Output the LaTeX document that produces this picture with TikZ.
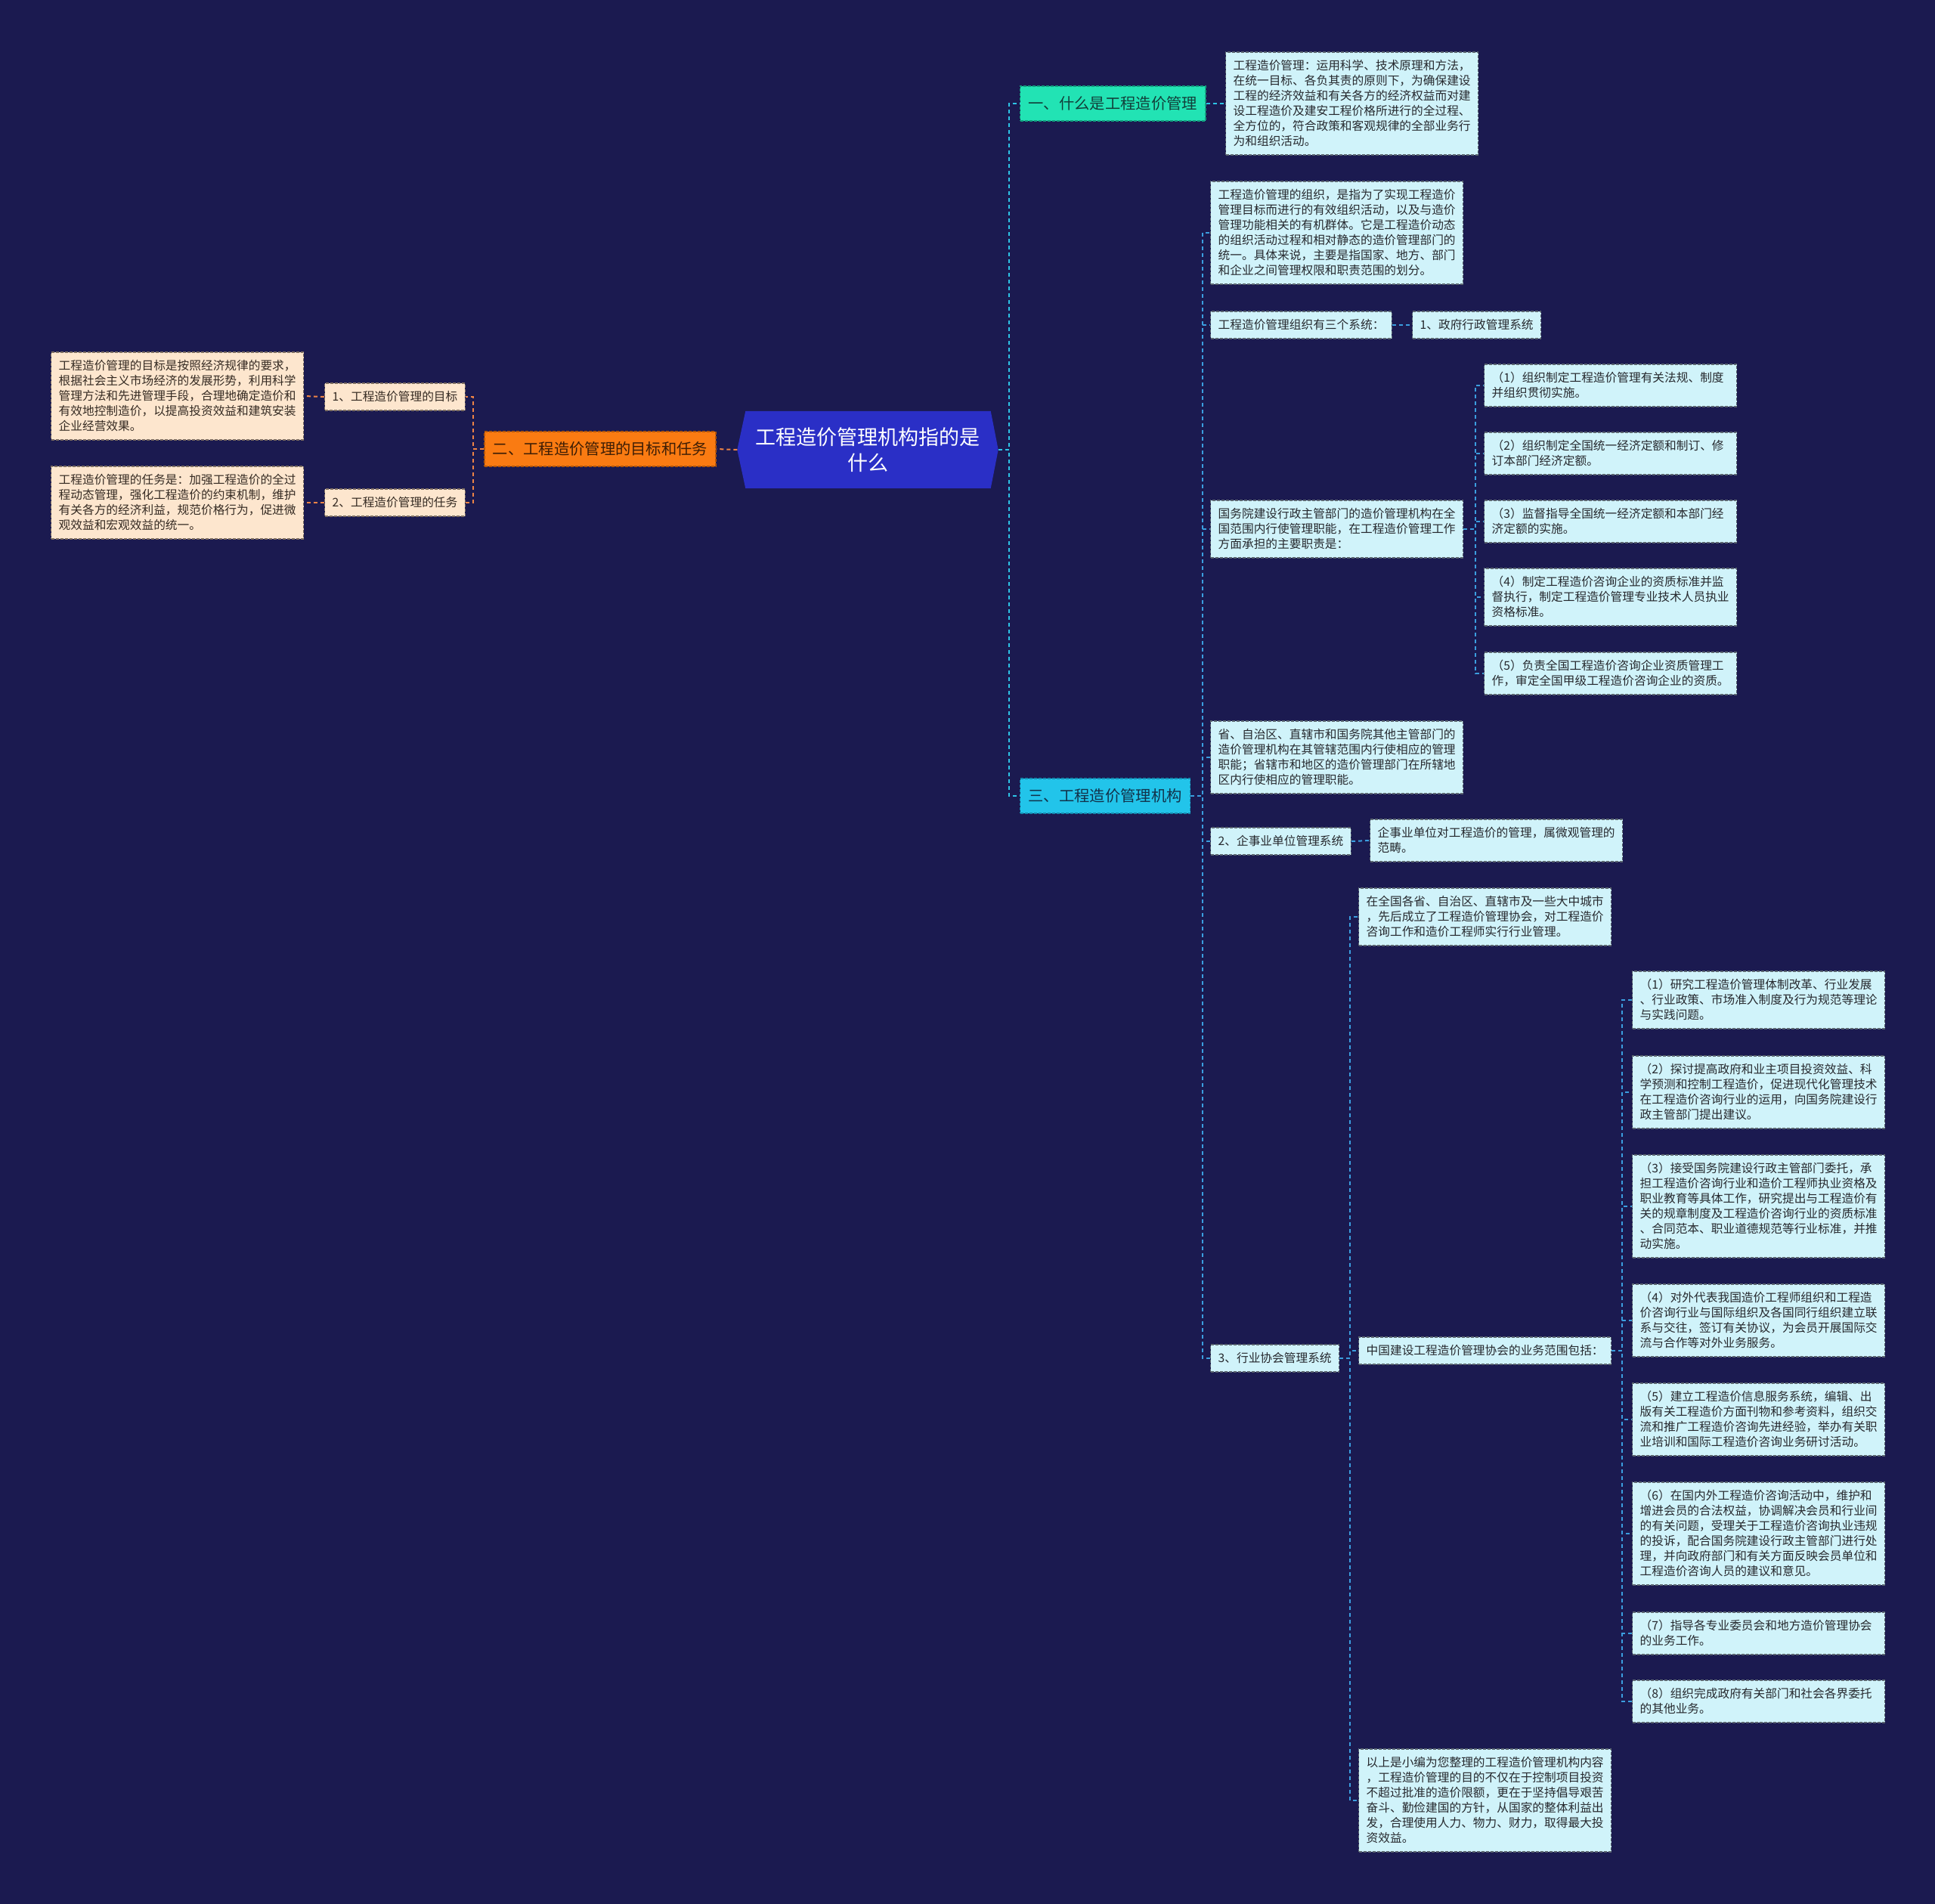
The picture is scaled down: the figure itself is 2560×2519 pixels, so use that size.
\documentclass[tikz,border=0pt]{standalone}
\usepackage{fontspec}
\setmainfont{Noto Sans CJK SC}
\usetikzlibrary{backgrounds}
\definecolor{bgc}{HTML}{1B1A50}
\definecolor{hubfill}{HTML}{2A2FC6}
\definecolor{mintfill}{HTML}{22E3B4}
\definecolor{mintdraw}{HTML}{129C7C}
\definecolor{cyanfill}{HTML}{22C4EA}
\definecolor{cyandraw}{HTML}{1489AE}
\definecolor{orgfill}{HTML}{FA7B12}
\definecolor{orgdraw}{HTML}{B35508}
\definecolor{leafcyan}{HTML}{D0F3FA}
\definecolor{leafpeach}{HTML}{FDE6CE}
\definecolor{leafdraw}{HTML}{5B6670}
\definecolor{peachdraw}{HTML}{7D6E62}
\definecolor{leaftext}{HTML}{26292E}
\definecolor{peachtext}{HTML}{352B23}
\definecolor{mainline}{HTML}{2DC4E6}
\definecolor{subline}{HTML}{3B9EDF}
\definecolor{orgline}{HTML}{EE8446}
\definecolor{minttext}{HTML}{123F3A}
\definecolor{cyantext}{HTML}{12324A}
\definecolor{orgtext}{HTML}{3E1E05}
\newcommand\linestrut{\rule[-4.1pt]{0pt}{20pt}}
\tikzset{
 box/.style={rectangle, line width=1.3pt, dash pattern=on 4pt off 2pt, font=\fontsize{15.7}{20}\selectfont, inner xsep=10pt, inner ysep=8pt, align=left, anchor=west, execute at begin node=\linestrut, execute at end node=\linestrut},
 cbox/.style={box, fill=leafcyan, draw=leafdraw, text=leaftext},
 cwide/.style={cbox, text width=314pt},
 pbox/.style={box, fill=leafpeach, draw=peachdraw, text=peachtext},
 pwide/.style={pbox, text width=314pt},
 topic/.style={rectangle, line width=1.3pt, dash pattern=on 4pt off 2pt, font=\fontsize{20.3}{24}\selectfont, inner xsep=11pt, inner ysep=0pt, minimum height=46pt},
 link/.style={line width=2pt, dash pattern=on 5pt off 4pt},
}
\begin{document}
\begin{tikzpicture}[x=1pt,y=-1pt]
\useasboundingbox (0,0) rectangle (2560,2519);
% hub
\node[font=\fontsize{27}{34}\selectfont, text=white, align=center, minimum width=345pt, minimum height=102pt, inner sep=0pt] (hub) at (1148,595) {工程造价管理机构指的是\\什么};
\begin{scope}[on background layer]
\fill[bgc] (0,0) rectangle (2560,2519);
\fill[hubfill] (hub.west) -- ([xshift=11pt]hub.north west) -- ([xshift=-10pt]hub.north east) -- (hub.east) -- ([xshift=-10pt]hub.south east) -- ([xshift=11pt]hub.south west) -- cycle;
\end{scope}
% topics
\node[topic, fill=mintfill, draw=mintdraw, text=minttext, anchor=west] (a1) at (1349,137) {一、什么是工程造价管理};
\node[topic, fill=orgfill, draw=orgdraw, text=orgtext] (a2) at (794,594) {二、工程造价管理的目标和任务};
\node[topic, fill=cyanfill, draw=cyandraw, text=cyantext, anchor=west] (a3) at (1349,1053) {三、工程造价管理机构};
% branch one
\node[cwide] (t1) at (1621,137) {工程造价管理：运用科学、技术原理和方法，\\在统一目标、各负其责的原则下，为确保建设\\工程的经济效益和有关各方的经济权益而对建\\设工程造价及建安工程价格所进行的全过程、\\全方位的，符合政策和客观规律的全部业务行\\为和组织活动。};
% branch two
\node[pbox] (l1) at (429,525) {1、工程造价管理的目标};
\node[pbox] (l2) at (429,665) {2、工程造价管理的任务};
\node[pwide] (lt1) at (67,524) {工程造价管理的目标是按照经济规律的要求，\\根据社会主义市场经济的发展形势，利用科学\\管理方法和先进管理手段，合理地确定造价和\\有效地控制造价，以提高投资效益和建筑安装\\企业经营效果。};
\node[pwide] (lt2) at (67,665) {工程造价管理的任务是：加强工程造价的全过\\程动态管理，强化工程造价的约束机制，维护\\有关各方的经济利益，规范价格行为，促进微\\观效益和宏观效益的统一。};
% branch three
\node[cwide] (b1) at (1601,308) {工程造价管理的组织，是指为了实现工程造价\\管理目标而进行的有效组织活动，以及与造价\\管理功能相关的有机群体。它是工程造价动态\\的组织活动过程和相对静态的造价管理部门的\\统一。具体来说，主要是指国家、地方、部门\\和企业之间管理权限和职责范围的划分。};
\node[cbox] (b2) at (1601,430) {工程造价管理组织有三个系统：};
\node[cbox] (c1) at (1868,430) {1、政府行政管理系统};
\node[cwide] (b3) at (1601,700) {国务院建设行政主管部门的造价管理机构在全\\国范围内行使管理职能，在工程造价管理工作\\方面承担的主要职责是：};
\node[cwide] (d1) at (1963,510) {（1）组织制定工程造价管理有关法规、制度\\并组织贯彻实施。};
\node[cwide] (d2) at (1963,600) {（2）组织制定全国统一经济定额和制订、修\\订本部门经济定额。};
\node[cwide] (d3) at (1963,690) {（3）监督指导全国统一经济定额和本部门经\\济定额的实施。};
\node[cwide] (d4) at (1963,790) {（4）制定工程造价咨询企业的资质标准并监\\督执行，制定工程造价管理专业技术人员执业\\资格标准。};
\node[cwide] (d5) at (1963,891) {（5）负责全国工程造价咨询企业资质管理工\\作，审定全国甲级工程造价咨询企业的资质。};
\node[cwide] (b4) at (1601,1002) {省、自治区、直辖市和国务院其他主管部门的\\造价管理机构在其管辖范围内行使相应的管理\\职能；省辖市和地区的造价管理部门在所辖地\\区内行使相应的管理职能。};
\node[cbox] (b5) at (1601,1113) {2、企事业单位管理系统};
\node[cwide] (e1) at (1812,1112) {企事业单位对工程造价的管理，属微观管理的\\范畴。};
\node[cbox] (b6) at (1601,1797) {3、行业协会管理系统};
\node[cwide] (f1) at (1797,1213) {在全国各省、自治区、直辖市及一些大中城市\\，先后成立了工程造价管理协会，对工程造价\\咨询工作和造价工程师实行行业管理。};
\node[cwide] (f2) at (1797,1787) {中国建设工程造价管理协会的业务范围包括：};
\node[cwide] (f3) at (1797,2382) {以上是小编为您整理的工程造价管理机构内容\\，工程造价管理的目的不仅在于控制项目投资\\不超过批准的造价限额，更在于坚持倡导艰苦\\奋斗、勤俭建国的方针，从国家的整体利益出\\发，合理使用人力、物力、财力，取得最大投\\资效益。};
\node[cwide] (g1) at (2159,1323) {（1）研究工程造价管理体制改革、行业发展\\、行业政策、市场准入制度及行为规范等理论\\与实践问题。};
\node[cwide] (g2) at (2159,1445) {（2）探讨提高政府和业主项目投资效益、科\\学预测和控制工程造价，促进现代化管理技术\\在工程造价咨询行业的运用，向国务院建设行\\政主管部门提出建议。};
\node[cwide] (g3) at (2159,1596) {（3）接受国务院建设行政主管部门委托，承\\担工程造价咨询行业和造价工程师执业资格及\\职业教育等具体工作，研究提出与工程造价有\\关的规章制度及工程造价咨询行业的资质标准\\、合同范本、职业道德规范等行业标准，并推\\动实施。};
\node[cwide] (g4) at (2159,1747) {（4）对外代表我国造价工程师组织和工程造\\价咨询行业与国际组织及各国同行组织建立联\\系与交往，签订有关协议，为会员开展国际交\\流与合作等对外业务服务。};
\node[cwide] (g5) at (2159,1878) {（5）建立工程造价信息服务系统，编辑、出\\版有关工程造价方面刊物和参考资料，组织交\\流和推广工程造价咨询先进经验，举办有关职\\业培训和国际工程造价咨询业务研讨活动。};
\node[cwide] (g6) at (2159,2029) {（6）在国内外工程造价咨询活动中，维护和\\增进会员的合法权益，协调解决会员和行业间\\的有关问题，受理关于工程造价咨询执业违规\\的投诉，配合国务院建设行政主管部门进行处\\理，并向政府部门和有关方面反映会员单位和\\工程造价咨询人员的建议和意见。};
\node[cwide] (g7) at (2159,2161) {（7）指导各专业委员会和地方造价管理协会\\的业务工作。};
\node[cwide] (g8) at (2159,2251) {（8）组织完成政府有关部门和社会各界委托\\的其他业务。};
% connectors
\draw[link, mainline] (hub.east) -- ++(14,0) |- (a1.west);
\draw[link, mainline] (hub.east) -- ++(14,0) |- (a3.west);
\draw[link, mainline] (a1.east) -- (t1.west);
\draw[link, orgline] (hub.west) -- (a2.east);
\draw[link, orgline] (a2.west) -- ++(-14,0) |- (l1.east);
\draw[link, orgline] (a2.west) -- ++(-14,0) |- (l2.east);
\draw[link, orgline] (l1.west) -- (lt1.east);
\draw[link, orgline] (l2.west) -- (lt2.east);
\foreach \n in {b1,b2,b3,b4,b5,b6} \draw[link, subline] (a3.east) -- ++(16,0) |- (\n.west);
\draw[link, subline] (b2.east) -- (c1.west);
\foreach \n in {d1,d2,d3,d4,d5} \draw[link, subline] (b3.east) -- ++(16,0) |- (\n.west);
\draw[link, subline] (b5.east) -- (e1.west);
\foreach \n in {f1,f2,f3} \draw[link, subline] (b6.east) -- ++(14,0) |- (\n.west);
\foreach \n in {g1,g2,g3,g4,g5,g6,g7,g8} \draw[link, subline] (f2.east) -- ++(14,0) |- (\n.west);
\end{tikzpicture}
\end{document}
